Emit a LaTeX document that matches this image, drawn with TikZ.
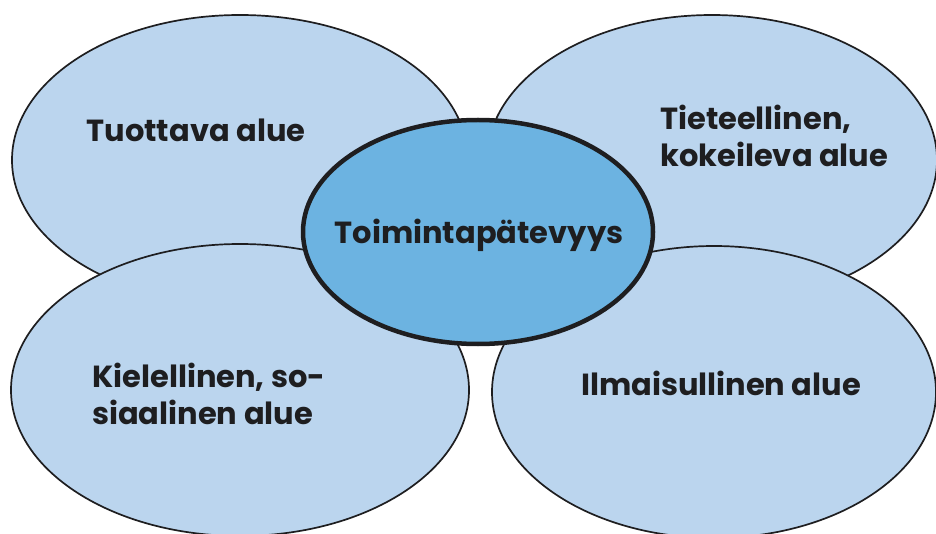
\documentclass[tikz,border=0pt]{standalone}
\usepackage{fontspec}
\setmainfont{Poppins}
\usetikzlibrary{shapes.geometric}
\definecolor{petal}{RGB}{187,213,238}
\definecolor{core}{RGB}{108,179,225}
\definecolor{ink}{RGB}{30,30,32}
\tikzset{
  petal/.style={ellipse, draw=ink, line width=1.7pt, fill=petal, inner sep=0pt},
  corebox/.style={ellipse, draw=ink, line width=4.5pt, fill=core, inner sep=0pt},
  lbl/.style={text=ink, font=\fontsize{30.5}{37}\selectfont\bfseries, inner sep=0pt},
}
\begin{document}
\begin{tikzpicture}[x=1pt,y=1pt]
\useasboundingbox[fill=white] (0,0) rectangle (936,533);
% top petals
\node[petal, minimum width=456pt, minimum height=290pt] (tl) at (240,533-160) {};
\node[petal, minimum width=450pt, minimum height=290pt] (tr) at (712,533-160) {};
% bottom petals
\node[petal, minimum width=458pt, minimum height=292pt] (bl) at (240,533-390) {};
\node[petal, minimum width=444pt, minimum height=292pt] (br) at (714,533-392) {};
% centre
\node[corebox, minimum width=350pt, minimum height=224pt] (c) at (478,533-232) {};
% labels
\node[lbl] (ttl) at (196,533-130) {Tuottava alue};
\node[lbl, align=left, anchor=west] (ttr) at (660,533-136) {Tieteellinen,\\kokeileva alue};
\node[lbl] (tc) at (479,533-235) {Toimintapätevyys};
\node[lbl, align=left, anchor=west] (tbl) at (92,533-394) {Kielellinen, so-\\siaalinen alue};
\node[lbl] (tbr) at (721,533-383) {Ilmaisullinen alue};
\end{tikzpicture}
\end{document}
